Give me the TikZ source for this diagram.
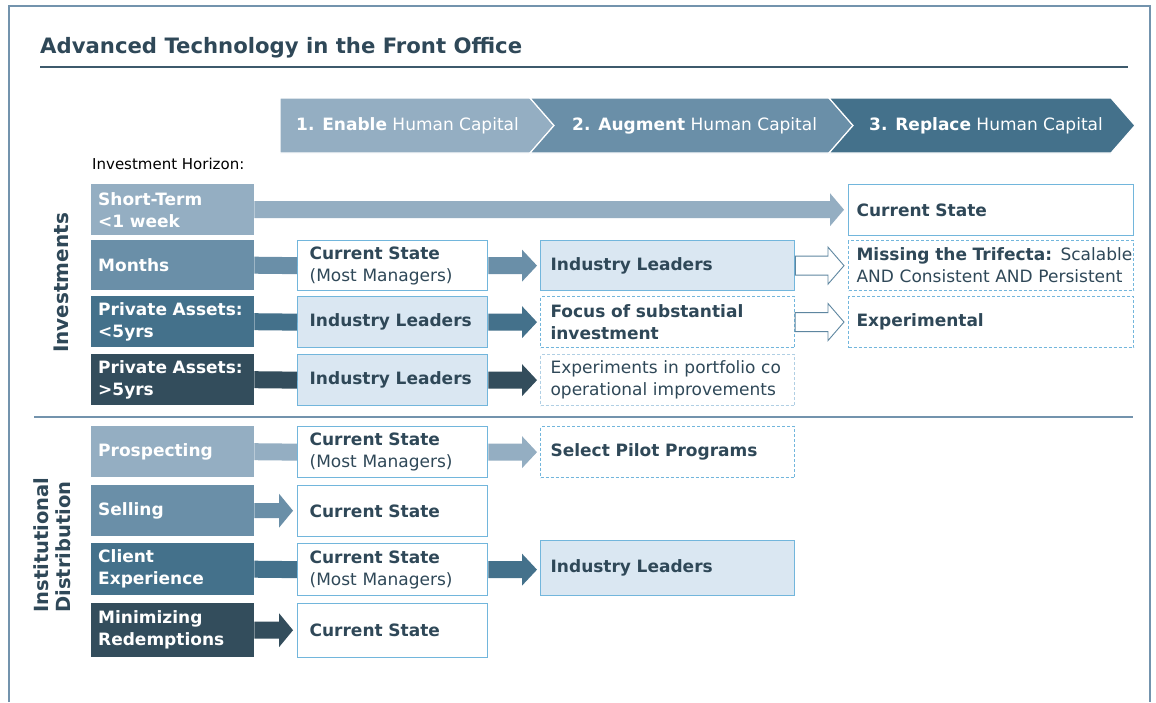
\documentclass[tikz,border=0pt]{standalone}
\usepackage{fontspec}
\setmainfont{DejaVu Sans}
\usetikzlibrary{calc}
\definecolor{cA}{HTML}{94AEC2}
\definecolor{cB}{HTML}{6A8FA8}
\definecolor{cC}{HTML}{44718B}
\definecolor{cD}{HTML}{334D5C}
\definecolor{txt}{HTML}{2F4858}
\definecolor{bord}{HTML}{72B6DC}
\definecolor{lbord}{HTML}{B0CFE4}
\definecolor{fillL}{HTML}{DAE7F2}
\definecolor{framec}{HTML}{7393AD}
\definecolor{outl}{HTML}{5E86A0}
\definecolor{rulec}{HTML}{3D5A6C}
\newcommand\myfs[2]{\fontsize{#1}{#2}\selectfont}
% #1 style, #2 from, #3 to, #4 shaft half, #5 head half, #6 head length, #7 gap
\newcommand\fatarrow[7]{%
  \path[#1] let \p1=(#2), \p2=(#3) in
   (\x1,\y1+#4) -- (\x2-#7-#6,\y1+#4) -- (\x2-#7-#6,\y1+#5) -- (\x2-#7,\y1)
   -- (\x2-#7-#6,\y1-#5) -- (\x2-#7-#6,\y1-#4) -- (\x1,\y1-#4) -- cycle;}
\begin{document}
\begin{tikzpicture}[x=1pt,y=-1pt,
  lab/.style={anchor=north west, inner xsep=7pt, inner ysep=0pt, text width=149pt, align=left, text=white, font=\myfs{17}{22}\bfseries},
  boxA/.style={anchor=north west, inner xsep=12pt, inner ysep=0pt, text width=166pt, align=left, text=txt, font=\myfs{17}{22}},
  boxB/.style={anchor=north west, inner xsep=10pt, inner ysep=0pt, text width=234pt, align=left, text=txt, font=\myfs{17}{22}},
  boxC/.style={anchor=north west, inner xsep=8pt, inner ysep=0pt, text width=269pt, align=left, text=txt, font=\myfs{17}{22}},
  solidw/.style={draw=bord, line width=1.3pt, fill=white},
  solidf/.style={draw=bord, line width=1.3pt, fill=fillL},
  dashA/.style={draw=bord, line width=1.1pt, dash pattern=on 3pt off 2pt, fill=white},
  dashB/.style={draw=lbord, line width=1.1pt, dash pattern=on 3pt off 2pt, fill=white},
  chev/.style={draw=white, line width=1.2pt},
  chevtxt/.style={anchor=west, text=white, font=\myfs{17}{22}, inner sep=0pt},
  conn/.style={line width=17pt},
  outarrow/.style={draw=outl, fill=white, line width=0.9pt},
]
\useasboundingbox (0,0) rectangle (1156,702);
\fill[white] (0,0) rectangle (1156,702);
% frame
\draw[framec, line width=1.5pt] (9,702) -- (9,6) -- (1150,6) -- (1150,702);
% title
\node[anchor=base west, inner sep=0pt, text=txt, font=\myfs{21.2}{26}\bfseries] (title) at (40,53) {Advanced Technology in the Front Office};
\draw[rulec, line width=1.3pt] (40,67) -- (1128,67);
% chevrons
\path[chev, fill=cA] (280,98) -- (530,98) -- (554,125.5) -- (530,153) -- (280,153) -- cycle;
\path[chev, fill=cB] (530,98) -- (829,98) -- (853,125.5) -- (829,153) -- (530,153) -- (554,125.5) -- cycle;
\path[chev, fill=cC] (829,98) -- (1111,98) -- (1135,125.5) -- (1111,153) -- (829,153) -- (853,125.5) -- cycle;
\node[chevtxt] (ch1) at (296,125.5) {\textbf{1. Enable} Human Capital};
\node[chevtxt] (ch2) at (572,125.5) {\textbf{2. Augment} Human Capital};
\node[chevtxt] (ch3) at (869,125.5) {\textbf{3. Replace} Human Capital};
\node[anchor=west, inner sep=0pt, font=\myfs{15}{18}] (hor) at (92,164) {Investment Horizon:};
% side labels
\node[rotate=90, font=\myfs{20}{24}\bfseries, text=txt] (inv) at (61,283) {Investments};
\node[rotate=90, font=\myfs{19.5}{22}\bfseries, text=txt, align=left] (inst) at (52,545) {Institutional\\Distribution};
% separator
\draw[framec, line width=1.8pt] (34,417) -- (1133,417);
% row labels
\node[lab, fill=cA, minimum height=51pt] (l1) at (91,184) {Short-Term\\<1 week};
\node[lab, fill=cB, minimum height=50pt] (l2) at (91,240) {Months};
\node[lab, fill=cC, minimum height=51pt] (l3) at (91,296) {Private Assets:\\<5yrs};
\node[lab, fill=cD, minimum height=51pt] (l4) at (91,354) {Private Assets:\\>5yrs};
\node[lab, fill=cA, minimum height=51pt] (l5) at (91,426) {Prospecting};
\node[lab, fill=cB, minimum height=51pt] (l6) at (91,485) {Selling};
\node[lab, fill=cC, minimum height=52pt] (l7) at (91,543) {Client\\Experience};
\node[lab, fill=cD, minimum height=54pt] (l8) at (91,603) {Minimizing\\Redemptions};
% column 2
\node[boxA, solidw, minimum height=50pt] (cs2) at (297,240) {\textbf{Current State}\\(Most Managers)};
\node[boxA, solidf, minimum height=51pt] (il3) at (297,296) {\textbf{Industry Leaders}};
\node[boxA, solidf, minimum height=51pt] (il4) at (297,354) {\textbf{Industry Leaders}};
\node[boxA, solidw, minimum height=51pt] (cs5) at (297,426) {\textbf{Current State}\\(Most Managers)};
\node[boxA, solidw, minimum height=51pt] (cs6) at (297,485) {\textbf{Current State}};
\node[boxA, solidw, minimum height=52pt] (cs7) at (297,543) {\textbf{Current State}\\(Most Managers)};
\node[boxA, solidw, minimum height=54pt] (cs8) at (297,603) {\textbf{Current State}};
% column 3
\node[boxB, solidf, minimum height=50pt] (ind2) at (540,240) {\textbf{Industry Leaders}};
\node[boxB, dashA, minimum height=51pt] (foc3) at (540,296) {\textbf{Focus of substantial}\\\textbf{investment}};
\node[boxB, dashB, minimum height=51pt] (exp4) at (540,354) {\mbox{Experiments in portfolio co}\\\mbox{operational improvements}};
\node[boxB, dashA, minimum height=51pt] (sel5) at (540,426) {\textbf{Select Pilot Programs}};
\node[boxB, solidf, minimum height=55pt] (ind7) at (540,540) {\textbf{Industry Leaders}};
% column 4
\node[boxC, solidw, minimum height=51pt] (cur1) at (848,184) {\textbf{Current State}};
\node[boxC, dashA, minimum height=50pt] (mis2) at (848,240) {\mbox{\textbf{Missing the Trifecta:} Scalable}\\\mbox{AND Consistent AND Persistent}};
\node[boxC, dashA, minimum height=51pt] (expl3) at (848,296) {\textbf{Experimental}};
% connectors label -> column 2
\fatarrow{fill=cA}{l1.east}{cur1.west}{8.5pt}{16.5pt}{14pt}{4pt}
\draw[conn, cB] (l2.east) -- (cs2.west);
\draw[conn, cC] (l3.east) -- (il3.west);
\draw[conn, cD] (l4.east) -- (il4.west);
\draw[conn, cA] (l5.east) -- (cs5.west);
\fatarrow{fill=cB}{l6.east}{cs6.west}{7.5pt}{17pt}{14pt}{4pt}
\draw[conn, cC] (l7.east) -- (cs7.west);
\fatarrow{fill=cD}{l8.east}{cs8.west}{8.5pt}{17pt}{14pt}{4pt}
% column 2 -> column 3
\fatarrow{fill=cB}{cs2.east}{ind2.west}{8.5pt}{16pt}{15pt}{3pt}
\fatarrow{fill=cC}{il3.east}{foc3.west}{8.5pt}{16pt}{15pt}{3pt}
\fatarrow{fill=cD}{il4.east}{exp4.west}{8.5pt}{16pt}{15pt}{3pt}
\fatarrow{fill=cA}{cs5.east}{sel5.west}{8.5pt}{16pt}{15pt}{3pt}
\fatarrow{fill=cC}{cs7.east}{ind7.west}{8.5pt}{16pt}{15pt}{3pt}
% column 3 -> column 4 (outline arrows)
\fatarrow{outarrow}{ind2.east}{mis2.west}{9.5pt}{18.5pt}{16pt}{4pt}
\fatarrow{outarrow}{foc3.east}{expl3.west}{9.5pt}{18.5pt}{16pt}{4pt}
\end{tikzpicture}
\end{document}
